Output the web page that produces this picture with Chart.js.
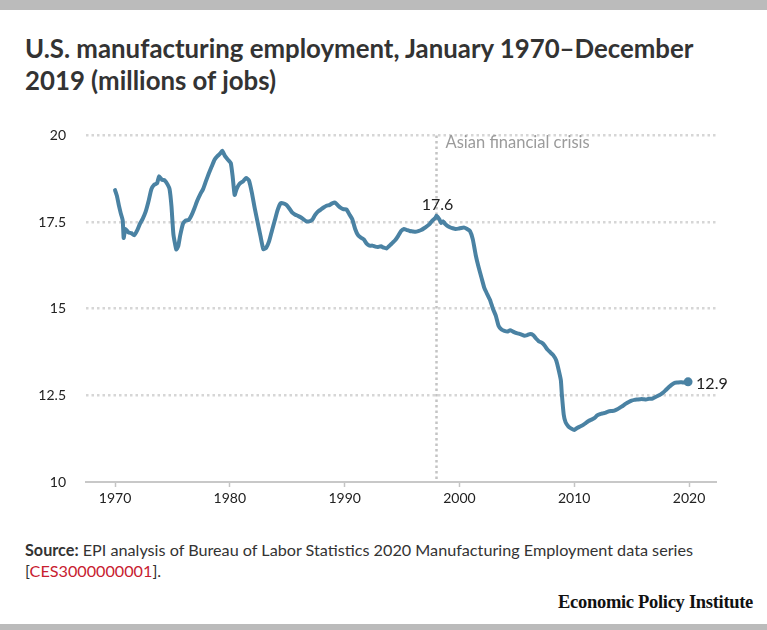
<!DOCTYPE html>
<html>
<head>
<meta charset="utf-8">
<script src="https://cdn.jsdelivr.net/npm/chart.js@4.4.1/dist/chart.umd.min.js"></script>
<style>
html,body{margin:0;padding:0;background:#fff;}
body{width:767px;height:630px;position:relative;overflow:hidden;font-family:Lato,'Open Sans',sans-serif;color:#333;}
.topbar{position:absolute;left:0;top:0;width:767px;height:10px;background:#bbbbbb;}
.botbar{position:absolute;left:0;bottom:0;width:767px;height:6px;background:#bbbbbb;}
h1{position:absolute;left:25px;top:32px;margin:0;font-size:25.8px;line-height:32px;font-weight:700;color:#333;width:705px;}
#wrap{position:absolute;left:0;top:107px;width:767px;height:406px;}
.source{position:absolute;left:25px;top:539px;font-size:16.2px;line-height:21px;color:#333;}
.source b{font-weight:700;}
.source span{color:#c8202f;}
.epi{position:absolute;right:14px;top:592px;font-family:'Liberation Serif',serif;font-weight:700;font-size:18.5px;color:#111;letter-spacing:-0.3px;}
</style>
</head>
<body>
<div class="topbar"></div>
<h1>U.S. manufacturing employment, January 1970–December 2019 (millions of jobs)</h1>
<div id="wrap"><canvas id="c" width="767" height="406"></canvas></div>
<div class="source"><b>Source:</b> EPI analysis of Bureau of Labor Statistics 2020 Manufacturing Employment data series<br>[<span>CES3000000001</span>].</div>
<div class="epi">Economic Policy Institute</div>
<div class="botbar"></div>
<script>
const dates = [
'1970-01','1970-03','1970-05','1970-07','1970-09','1970-10','1970-11','1970-12',
'1971-03','1971-06','1971-09','1971-12','1972-03','1972-06','1972-09','1972-12',
'1973-03','1973-06','1973-09','1973-11','1974-02','1974-05','1974-08','1974-10','1974-12',
'1975-02','1975-05','1975-07','1975-09','1975-12','1976-03','1976-06','1976-09','1976-12',
'1977-03','1977-06','1977-09','1977-12','1978-03','1978-06','1978-09','1978-12',
'1979-03','1979-05','1979-08','1979-11','1980-02','1980-04','1980-06','1980-08','1980-11',
'1981-03','1981-06','1981-09','1981-12','1982-03','1982-06','1982-09','1982-12',
'1983-03','1983-06','1983-09','1983-12','1984-03','1984-06','1984-09','1984-12',
'1985-03','1985-06','1985-09','1985-12','1986-03','1986-06','1986-09','1986-12',
'1987-03','1987-06','1987-09','1987-12','1988-03','1988-06','1988-09','1988-12',
'1989-03','1989-06','1989-09','1989-12','1990-03','1990-06','1990-09','1990-12',
'1991-03','1991-06','1991-09','1991-12','1992-03','1992-06','1992-09','1992-12',
'1993-03','1993-06','1993-09','1993-12','1994-03','1994-06','1994-09','1994-12',
'1995-03','1995-06','1995-09','1995-12','1996-03','1996-06','1996-09','1996-12',
'1997-03','1997-06','1997-09','1997-12','1998-01','1998-04','1998-06','1998-08','1998-10','1998-12',
'1999-03','1999-06','1999-09','1999-12','2000-03','2000-06','2000-09','2000-12',
'2001-03','2001-06','2001-09','2001-12','2002-03','2002-06','2002-09','2002-12',
'2003-03','2003-06','2003-09','2003-12','2004-03','2004-06','2004-09','2004-12',
'2005-03','2005-06','2005-09','2005-12','2006-03','2006-06','2006-09','2006-12',
'2007-03','2007-06','2007-09','2007-12','2008-03','2008-06','2008-08','2008-11','2008-12',
'2009-02','2009-04','2009-07','2009-10','2010-01','2010-04','2010-07','2010-10',
'2011-01','2011-04','2011-07','2011-10','2012-01','2012-04','2012-07','2012-10',
'2013-01','2013-04','2013-07','2013-10','2014-01','2014-04','2014-07','2014-10',
'2015-01','2015-04','2015-07','2015-10','2016-01','2016-04','2016-07','2016-10',
'2017-01','2017-04','2017-07','2017-10','2018-01','2018-04','2018-07','2018-10',
'2019-01','2019-04','2019-07','2019-12'
];
const jobs = [
18.42,18.25,17.98,17.75,17.55,17.04,17.20,17.30,
17.20,17.18,17.12,17.25,17.45,17.60,17.80,18.10,
18.45,18.58,18.62,18.82,18.72,18.70,18.58,18.45,17.95,
17.15,16.71,16.80,17.10,17.45,17.55,17.56,17.70,17.90,
18.12,18.30,18.45,18.68,18.90,19.10,19.30,19.40,
19.48,19.56,19.40,19.30,19.20,18.80,18.28,18.45,18.60,
18.68,18.77,18.70,18.35,17.90,17.50,17.10,16.72,
16.76,16.94,17.25,17.55,17.85,18.04,18.04,18.00,
17.90,17.78,17.72,17.68,17.64,17.58,17.52,17.52,
17.56,17.70,17.80,17.86,17.92,17.97,17.99,18.04,
18.06,17.98,17.91,17.87,17.86,17.72,17.58,17.30,
17.12,17.05,17.00,16.88,16.82,16.82,16.79,16.78,
16.80,16.76,16.74,16.82,16.90,16.98,17.10,17.24,
17.30,17.27,17.24,17.23,17.22,17.24,17.27,17.32,
17.38,17.45,17.55,17.62,17.68,17.58,17.47,17.52,17.45,17.40,
17.35,17.32,17.30,17.31,17.33,17.34,17.30,17.24,
17.00,16.55,16.20,15.90,15.60,15.42,15.25,15.00,
14.80,14.50,14.40,14.36,14.34,14.38,14.34,14.30,
14.28,14.25,14.22,14.24,14.27,14.24,14.14,14.06,
14.02,13.94,13.82,13.74,13.66,13.52,13.32,12.94,12.55,
11.95,11.72,11.60,11.54,11.50,11.56,11.60,11.64,
11.70,11.76,11.80,11.84,11.92,11.96,11.98,12.00,
12.04,12.05,12.06,12.10,12.15,12.20,12.26,12.31,
12.35,12.37,12.38,12.39,12.39,12.38,12.40,12.40,
12.44,12.48,12.52,12.58,12.66,12.74,12.81,12.86,
12.87,12.88,12.87,12.89
];
const yearTicks = [1970,1980,1990,2000,2010,2020];
const valueTicks = [10,12.5,15,17.5,20];
const crisisDate = '1997-12';
const crisisLabel = 'Asian financial crisis';
const peakDate = '1998-01';
const peakLabel = '17.6';
const endLabel = '12.9';

function toYear(d){const p=d.split('-').map(Number);return p[0]+(p[1]-1)/12;}
const points = dates.map((d,i)=>({x:toYear(d),y:jobs[i]}));
const LINE = '#4a82a3';

const annot = {
  id:'annot',
  beforeDatasetsDraw(chart){
    const {ctx, chartArea, scales:{x,y}} = chart;
    const px = Math.round(x.getPixelForValue(toYear(crisisDate)))+0.5;
    ctx.save();
    ctx.strokeStyle='#c4c4c4'; ctx.lineWidth=2.5; ctx.setLineDash([2.5,3]);
    ctx.beginPath(); ctx.moveTo(px, chartArea.top); ctx.lineTo(px, chartArea.bottom); ctx.stroke();
    ctx.setLineDash([]);
    ctx.font='16.5px Lato'; ctx.fillStyle='#9b9b9b'; ctx.textAlign='left'; ctx.textBaseline='middle';
    ctx.fillText(crisisLabel, px+9, y.getPixelForValue(20)+7);
    ctx.restore();
  },
  afterDatasetsDraw(chart){
    const {ctx, scales:{x,y}} = chart;
    ctx.save();
    ctx.font='16px Lato'; ctx.fillStyle='#222';
    const i = dates.indexOf(peakDate);
    ctx.textAlign='center'; ctx.textBaseline='alphabetic';
    ctx.fillText(peakLabel, x.getPixelForValue(points[i].x)+1, y.getPixelForValue(points[i].y)-6);
    const last = points[points.length-1];
    ctx.textAlign='left'; ctx.textBaseline='middle';
    ctx.fillText(endLabel, x.getPixelForValue(last.x)+8, y.getPixelForValue(last.y)+2);
    ctx.restore();
  }
};

new Chart(document.getElementById('c'), {
  type:'line',
  data:{datasets:[{
    data:points, borderColor:LINE, borderWidth:4, tension:0.15,
    borderJoinStyle:'round', borderCapStyle:'round',
    pointRadius:(c)=>c.dataIndex===points.length-1?4.5:0,
    pointBackgroundColor:LINE, pointBorderWidth:0, pointHoverRadius:0
  }]},
  options:{
    responsive:false, animation:false, events:[],
    layout:{padding:{top:9,right:51,left:0,bottom:0}},
    plugins:{legend:{display:false}, tooltip:{enabled:false}},
    scales:{
      x:{type:'linear', min:1967.47, max:2022.35,
        afterBuildTicks:(a)=>{a.ticks=yearTicks.map(v=>({value:v}));},
        afterFit:(a)=>{a.height=31;},
        grid:{drawOnChartArea:false, drawTicks:true, tickLength:5, tickColor:'#c4c4c4', tickWidth:1.5},
        border:{display:true, color:'#c8c8c8', width:2},
        ticks:{padding:3, color:'#222', font:{family:'Lato', size:14}, callback:(v)=>String(v), maxRotation:0, autoSkip:false}
      },
      y:{min:10, max:20,
        afterBuildTicks:(a)=>{a.ticks=valueTicks.map(v=>({value:v}));},
        afterFit:(a)=>{a.width=86;},
        grid:{color:(c)=>(c.tick && c.tick.value===10)?'rgba(0,0,0,0)':'#d6d6d6', lineWidth:2.5, drawTicks:false},
        border:{display:false, dash:[2.5,3]},
        ticks:{padding:20, color:'#222', font:{family:'Lato', size:14}, callback:(v)=>String(v)}
      }
    }
  },
  plugins:[annot]
});
</script>
</body>
</html>
